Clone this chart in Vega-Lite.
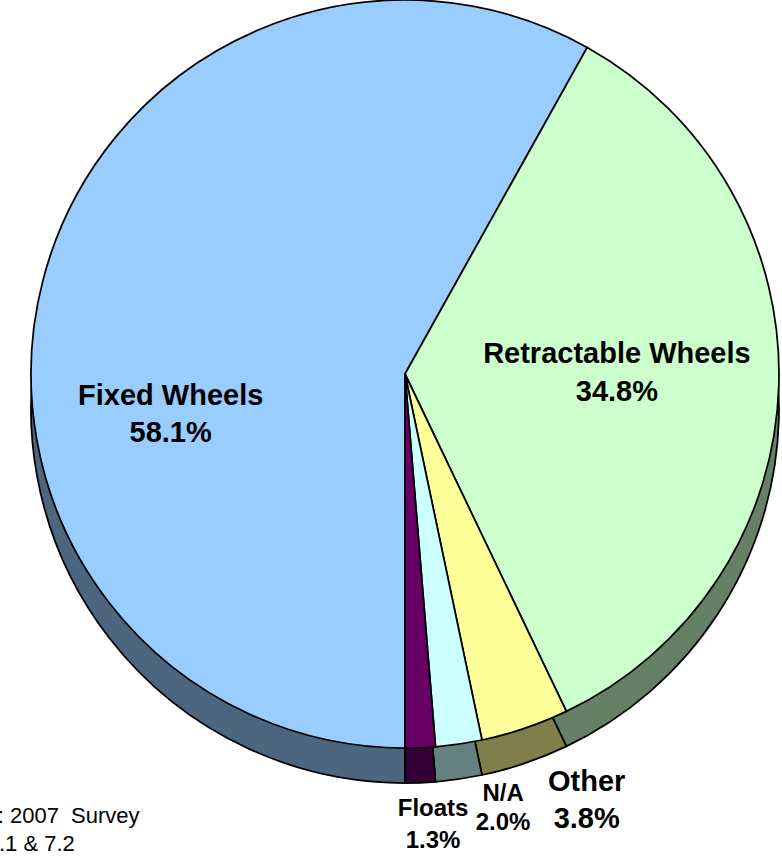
{
  "$schema": "https://vega.github.io/schema/vega-lite/v6.json",
  "width": 754,
  "height": 748,
  "padding": {"left": 28, "top": 0, "right": 0, "bottom": 108},
  "autosize": {"type": "none"},
  "background": "white",
  "config": {"view": {"stroke": null}},
  "title": {
    "text": ["Source: 2007\u00a0 Survey", "Table 7.1 & 7.2"],
    "orient": "bottom",
    "anchor": "start",
    "frame": "group",
    "font": "Liberation Sans",
    "fontSize": 22,
    "fontWeight": "normal",
    "color": "black",
    "lineHeight": 28,
    "offset": -47,
    "dx": -100
  },
  "data": {
    "values": [
      {"category": "Fixed Wheels", "share": 58.1, "rank": 1, "label": "Fixed Wheels\n58.1%"},
      {"category": "Retractable Wheels", "share": 34.8, "rank": 2, "label": "Retractable Wheels\n34.8%"},
      {"category": "Other", "share": 3.8, "rank": 3, "label": "Other\n3.8%"},
      {"category": "N/A", "share": 2.0, "rank": 4, "label": "N/A\n2.0%"},
      {"category": "Floats", "share": 1.3, "rank": 5, "label": "Floats\n1.3%"}
    ]
  },
  "encoding": {
    "theta": {"field": "share", "type": "quantitative", "stack": true, "scale": {"range": [3.14159265, 9.42477796]}},
    "order": {"field": "rank", "type": "quantitative"},
    "detail": {"field": "category", "type": "nominal"}
  },
  "layer": [
    {
      "mark": {"type": "arc", "radius": 374, "yOffset": 35, "stroke": "black", "strokeWidth": 1.75},
      "encoding": {
        "color": {"field": "category", "type": "nominal", "legend": null,
          "scale": {"domain": ["Fixed Wheels", "Retractable Wheels", "Other", "N/A", "Floats"],
                    "range": ["#4C6680", "#668066", "#807F4C", "#668080", "#330033"]}}
      }
    },
    {
      "mark": {"type": "arc", "radius": 374, "stroke": "black", "strokeWidth": 1.75},
      "encoding": {
        "color": {"field": "category", "type": "nominal", "legend": null,
          "scale": {"domain": ["Fixed Wheels", "Retractable Wheels", "Other", "N/A", "Floats"],
                    "range": ["#99CCFF", "#CCFFCC", "#FFFF99", "#CCFFFF", "#660066"]}}
      }
    },
    {
      "mark": {"type": "text", "radius": 238, "dx": -4, "dy": 91, "font": "Liberation Sans", "fontWeight": "bold", "fontSize": 29, "lineHeight": 37, "lineBreak": "\n", "align": "center", "baseline": "alphabetic", "color": "black"},
      "encoding": {"text": {"condition": {"test": "datum.category === 'Fixed Wheels'", "field": "label"}, "value": ""}}
    },
    {
      "mark": {"type": "text", "radius": 212, "dx": 0, "dy": -18, "font": "Liberation Sans", "fontWeight": "bold", "fontSize": 29, "lineHeight": 38, "lineBreak": "\n", "align": "center", "baseline": "alphabetic", "color": "black"},
      "encoding": {"text": {"condition": {"test": "datum.category === 'Retractable Wheels'", "field": "label"}, "value": ""}}
    },
    {
      "mark": {"type": "text", "radius": 454, "dx": 36, "dy": -13, "font": "Liberation Sans", "fontWeight": "bold", "fontSize": 29, "lineHeight": 37, "lineBreak": "\n", "align": "center", "baseline": "alphabetic", "color": "black"},
      "encoding": {"text": {"condition": {"test": "datum.category === 'Other'", "field": "label"}, "value": ""}}
    },
    {
      "mark": {"type": "text", "radius": 438, "dx": 35, "dy": -6, "font": "Liberation Sans", "fontWeight": "bold", "fontSize": 24, "lineHeight": 29, "lineBreak": "\n", "align": "center", "baseline": "alphabetic", "color": "black"},
      "encoding": {"text": {"condition": {"test": "datum.category === 'N/A'", "field": "label"}, "value": ""}}
    },
    {
      "mark": {"type": "text", "radius": 443, "dx": 10, "dy": -1, "font": "Liberation Sans", "fontWeight": "bold", "fontSize": 24, "lineHeight": 32, "lineBreak": "\n", "align": "center", "baseline": "alphabetic", "color": "black"},
      "encoding": {"text": {"condition": {"test": "datum.category === 'Floats'", "field": "label"}, "value": ""}}
    }
  ],
  "resolve": {"scale": {"color": "independent"}}
}
